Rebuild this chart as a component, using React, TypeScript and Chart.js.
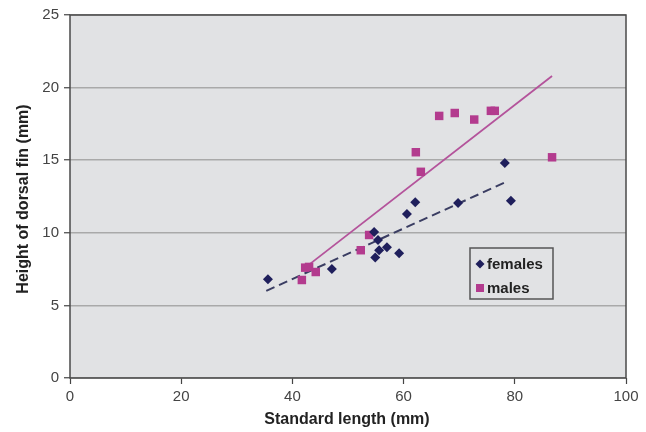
import React, { useEffect, useRef } from 'react';
import { Chart, registerables } from 'chart.js';
Chart.register(...registerables);

const femaleLength = [35.6, 47.1, 54.7, 55.4, 55.6, 57.0, 54.9, 59.2, 60.6, 62.1, 69.8, 79.3, 78.2];
const femaleHeight = [6.8, 7.5, 10.05, 9.5, 8.8, 9.0, 8.3, 8.6, 11.3, 12.1, 12.05, 12.2, 14.8];
const maleLength = [41.7, 42.3, 43.0, 44.2, 52.3, 53.8, 62.2, 63.1, 66.4, 69.2, 72.7, 75.7, 76.4, 86.7];
const maleHeight = [6.75, 7.6, 7.65, 7.3, 8.8, 9.85, 15.55, 14.2, 18.05, 18.25, 17.8, 18.4, 18.4, 15.2];
const femaleTrendX = [35.3, 78.4];
const femaleTrendY = [6.0, 13.5];
const maleTrendX = [42.3, 86.7];
const maleTrendY = [7.6, 20.8];
const seriesNames = ['females', 'males'];
const xTitle = 'Standard length (mm)';
const yTitle = 'Height of dorsal fin (mm)';

const FEMALE = '#1f1f5c';
const MALE = '#b33b8e';
const FONT = '"Liberation Sans", Arial, sans-serif';

const pts = (xs: number[], ys: number[]) => xs.map((x, i) => ({ x, y: ys[i] }));

const decor = {
  id: 'decor',
  beforeDraw(chart: any) {
    const { ctx, chartArea: a } = chart;
    ctx.save();
    ctx.fillStyle = '#e1e2e4';
    ctx.fillRect(a.left, a.top, a.right - a.left, a.bottom - a.top);
    ctx.restore();
  },
  afterDraw(chart: any) {
    const { ctx, chartArea: a } = chart;
    ctx.save();
    // frame
    ctx.strokeStyle = '#4a4a4a';
    ctx.lineWidth = 1.5;
    ctx.strokeRect(a.left, a.top, a.right - a.left, a.bottom - a.top);
    // legend
    const lx = 470, ly = 248, lw = 83, lh = 51;
    ctx.fillStyle = '#e1e2e4';
    ctx.fillRect(lx, ly, lw, lh);
    ctx.strokeStyle = '#555';
    ctx.lineWidth = 1.5;
    ctx.strokeRect(lx, ly, lw, lh);
    ctx.font = 'bold 15px ' + FONT;
    ctx.textBaseline = 'middle';
    ctx.textAlign = 'left';
    // female diamond
    const dx = 480, dy = 264;
    ctx.fillStyle = FEMALE;
    ctx.beginPath();
    ctx.moveTo(dx - 4.5, dy); ctx.lineTo(dx, dy - 4.5); ctx.lineTo(dx + 4.5, dy); ctx.lineTo(dx, dy + 4.5);
    ctx.closePath(); ctx.fill();
    ctx.fillStyle = '#222';
    ctx.fillText(seriesNames[0], 487, dy + 1);
    // male square
    const sy = 288;
    ctx.fillStyle = MALE;
    ctx.fillRect(dx - 4, sy - 4, 8, 8);
    ctx.fillStyle = '#222';
    ctx.fillText(seriesNames[1], 487, sy + 1);
    // axis titles
    ctx.font = 'bold 16px ' + FONT;
    ctx.fillStyle = '#222';
    ctx.textAlign = 'center';
    ctx.textBaseline = 'middle';
    ctx.fillText(xTitle, 347, 420);
    ctx.translate(24, 199);
    ctx.rotate(-Math.PI / 2);
    ctx.fillText(yTitle, 0, 0);
    ctx.restore();
  },
};

export default function App() {
  const ref = useRef<HTMLCanvasElement>(null);
  useEffect(() => {
    document.body.style.margin = '0';
    const chart = new Chart(ref.current!, {
      type: 'scatter',
      data: {
        datasets: [
          {
            label: seriesNames[0],
            data: pts(femaleLength, femaleHeight),
            pointStyle: 'rectRot',
            pointRadius: 5,
            backgroundColor: FEMALE,
            borderColor: FEMALE,
            borderWidth: 0,
            order: 1,
          },
          {
            label: seriesNames[1],
            data: pts(maleLength, maleHeight),
            pointStyle: 'rect',
            pointRadius: 6,
            backgroundColor: MALE,
            borderColor: MALE,
            borderWidth: 0,
            order: 2,
          },
          {
            label: 'female trend',
            data: pts(femaleTrendX, femaleTrendY),
            showLine: true,
            pointRadius: 0,
            borderColor: '#3a3d62',
            borderWidth: 2,
            borderDash: [9, 5],
            order: 3,
          },
          {
            label: 'male trend',
            data: pts(maleTrendX, maleTrendY),
            showLine: true,
            pointRadius: 0,
            borderColor: '#b4539b',
            borderWidth: 1.8,
            order: 4,
          },
        ],
      },
      options: {
        animation: false,
        responsive: false,
        layout: { padding: { top: 15, right: 20, left: 0, bottom: 0 } },
        plugins: { legend: { display: false }, tooltip: { enabled: false } },
        scales: {
          x: {
            type: 'linear',
            min: 0,
            max: 100,
            afterFit: (s: any) => { s.height = 54; },
            ticks: { stepSize: 20, color: '#444', font: { family: FONT, size: 15 }, padding: 4, maxRotation: 0 },
            grid: { drawOnChartArea: false, tickLength: 6, tickColor: '#444', tickWidth: 1.2 },
            border: { display: false },
          },
          y: {
            type: 'linear',
            min: 0,
            max: 25,
            afterFit: (s: any) => { s.width = 70; },
            ticks: { stepSize: 5, color: '#444', font: { family: FONT, size: 15 }, padding: 5 },
            grid: { color: '#a9a9a9', lineWidth: 1.5, tickLength: 6, tickColor: '#444', tickWidth: 1.2 },
            border: { display: false },
          },
        },
      },
      plugins: [decor],
    });
    return () => chart.destroy();
  }, []);
  return (
    <div style={{ position: 'absolute', left: 0, top: 0, width: 646, height: 432, background: '#fff' }}>
      <canvas ref={ref} width={646} height={432} style={{ width: 646, height: 432 }} />
    </div>
  );
}
